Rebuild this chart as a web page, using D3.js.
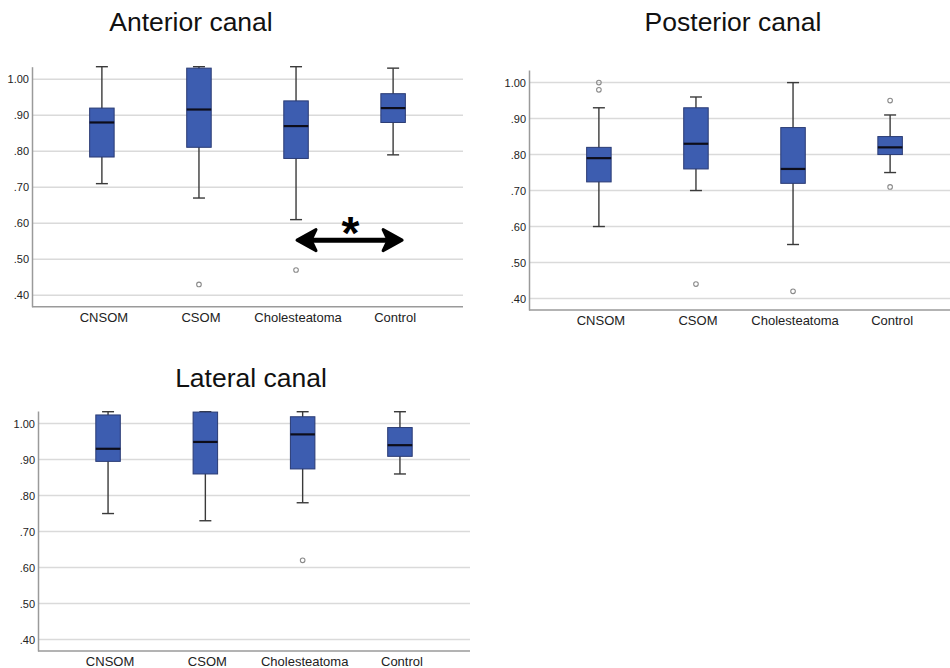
<!DOCTYPE html>
<html>
<head>
<meta charset="utf-8">
<script src="https://cdn.jsdelivr.net/npm/d3@7"></script>
<style>
  body { margin: 0; background: #fff; }
  svg { font-family: "Liberation Sans", Arial, sans-serif; }
</style>
</head>
<body>
<svg id="chart" width="950" height="668"></svg>
<script>
// groups on the x axis
const categories = ['CNSOM', 'CSOM', 'Cholesteatoma', 'Control'];
const yTicks = [0.4, 0.5, 0.6, 0.7, 0.8, 0.9, 1.0];

// box stats per group: [low whisker, Q1, median, Q3, high whisker]
const anteriorStats = [
  [0.71, 0.784, 0.88, 0.92, 1.035],
  [0.67, 0.811, 0.916, 1.031, 1.035],
  [0.61, 0.78, 0.87, 0.94, 1.035],
  [0.79, 0.88, 0.92, 0.96, 1.031]
];
const anteriorOutliers = [[], [0.43], [0.47], []];

const posteriorStats = [
  [0.60, 0.724, 0.79, 0.82, 0.93],
  [0.70, 0.76, 0.83, 0.93, 0.96],
  [0.55, 0.72, 0.76, 0.875, 1.00],
  [0.75, 0.80, 0.82, 0.85, 0.91]
];
const posteriorOutliers = [[1.00, 0.98], [0.44], [0.42], [0.95, 0.71]];

const lateralStats = [
  [0.75, 0.895, 0.93, 1.024, 1.033],
  [0.73, 0.86, 0.949, 1.032, 1.033],
  [0.78, 0.874, 0.97, 1.019, 1.033],
  [0.86, 0.909, 0.94, 0.989, 1.033]
];
const lateralOutliers = [[], [], [0.62], []];

// significance bracket on the anterior panel
const sigFrom = 'Cholesteatoma';
const sigTo = 'Control';
const sigValue = 0.553;

const panels = [
  { title: 'Anterior canal', stats: anteriorStats, outliers: anteriorOutliers,
    x0: 32, x1: 463, bottom: 306.7, titleX: 191, titleY: 31, sig: true },
  { title: 'Posterior canal', stats: posteriorStats, outliers: posteriorOutliers,
    x0: 529, x1: 960, bottom: 310, titleX: 733, titleY: 31, sig: false },
  { title: 'Lateral canal', stats: lateralStats, outliers: lateralOutliers,
    x0: 38, x1: 470, bottom: 651, titleX: 251, titleY: 387, sig: false }
];

const svg = d3.select('#chart');
const fmt = v => d3.format('.2f')(v).replace(/^0/, '');
const boxW = 24.5;
const capW = 12;

panels.forEach(p => {
  const g = svg.append('g');

  const x = d3.scalePoint().domain(categories).range([p.x0, p.x1]).padding(0.72);
  const y = d3.scaleLinear().domain([0.368, 1.035]).range([p.bottom, p.bottom - 240]);

  // gridlines
  g.selectAll('.grid')
    .data(yTicks)
    .enter()
    .append('line')
    .attr('class', 'grid')
    .attr('x1', p.x0).attr('x2', p.x1)
    .attr('y1', d => y(d)).attr('y2', d => y(d))
    .attr('stroke', '#dadada')
    .attr('stroke-width', 1.5);

  // y axis
  const yAxis = d3.axisLeft(y).tickValues(yTicks).tickFormat(fmt).tickSize(0).tickPadding(3);
  const ya = g.append('g')
    .attr('transform', `translate(${p.x0},0)`)
    .call(yAxis);
  ya.select('.domain').attr('stroke', '#9a9a9a').attr('stroke-width', 1.5);
  ya.selectAll('text').attr('font-size', 11).attr('fill', '#222').attr('font-family', null);

  // x axis
  const xAxis = d3.axisBottom(x).tickSize(0).tickPadding(6);
  const xa = g.append('g')
    .attr('transform', `translate(0,${p.bottom})`)
    .call(xAxis);
  xa.select('.domain').attr('stroke', '#9a9a9a').attr('stroke-width', 1.5)
    .attr('d', `M${p.x0},0H${p.x1}`);
  xa.selectAll('text').attr('font-size', 13).attr('fill', '#222').attr('font-family', null)
    .attr('dx', 1.5);

  // title
  g.append('text')
    .attr('x', p.titleX).attr('y', p.titleY)
    .attr('text-anchor', 'middle')
    .attr('font-size', 26.5)
    .attr('fill', '#111')
    .text(p.title);

  const boxes = g.selectAll('.box')
    .data(p.stats.map((s, i) => ({ cat: categories[i], s: s, out: p.outliers[i] })))
    .enter()
    .append('g')
    .attr('class', 'box')
    .attr('transform', d => `translate(${x(d.cat)},0)`);

  // whiskers
  boxes.append('line')
    .attr('x1', 0).attr('x2', 0)
    .attr('y1', d => y(d.s[0])).attr('y2', d => y(d.s[4]))
    .attr('stroke', '#3a3a3a').attr('stroke-width', 1.4);
  [0, 4].forEach(k => {
    boxes.append('line')
      .attr('x1', -capW / 2).attr('x2', capW / 2)
      .attr('y1', d => y(d.s[k])).attr('y2', d => y(d.s[k]))
      .attr('stroke', '#3a3a3a').attr('stroke-width', 1.4);
  });

  // box
  boxes.append('rect')
    .attr('x', -boxW / 2).attr('width', boxW)
    .attr('y', d => y(d.s[3]))
    .attr('height', d => y(d.s[1]) - y(d.s[3]))
    .attr('fill', '#3d5db0')
    .attr('stroke', '#2a3b74')
    .attr('stroke-width', 1);

  // median
  boxes.append('line')
    .attr('x1', -boxW / 2).attr('x2', boxW / 2)
    .attr('y1', d => y(d.s[2])).attr('y2', d => y(d.s[2]))
    .attr('stroke', '#0d0d1a').attr('stroke-width', 2.2);

  // outliers
  boxes.selectAll('circle')
    .data(d => d.out)
    .enter()
    .append('circle')
    .attr('cx', 0).attr('cy', d => y(d))
    .attr('r', 2.3)
    .attr('fill', 'none')
    .attr('stroke', '#8a8a8a')
    .attr('stroke-width', 1.1);

  if (p.sig) {
    const xa0 = x(sigFrom) + 1;
    const xb0 = x(sigTo) + 9;
    const yy = y(sigValue);
    g.append('line')
      .attr('x1', xa0 + 12).attr('x2', xb0 - 12)
      .attr('y1', yy).attr('y2', yy)
      .attr('stroke', '#000').attr('stroke-width', 5);
    g.append('path')
      .attr('d', `M${xa0},${yy}L${xa0 + 19},${yy - 10.5}L${xa0 + 14},${yy}L${xa0 + 19},${yy + 10.5}Z`)
      .attr('fill', '#000').attr('stroke', '#000').attr('stroke-width', 3).attr('stroke-linejoin', 'round');
    g.append('path')
      .attr('d', `M${xb0},${yy}L${xb0 - 19},${yy - 10.5}L${xb0 - 14},${yy}L${xb0 - 19},${yy + 10.5}Z`)
      .attr('fill', '#000').attr('stroke', '#000').attr('stroke-width', 3).attr('stroke-linejoin', 'round');
    g.append('text')
      .attr('x', (xa0 + xb0) / 2 + 1).attr('y', yy + 9)
      .attr('text-anchor', 'middle')
      .attr('font-size', 46)
      .attr('font-weight', 'bold')
      .attr('fill', '#000')
      .text('*');
  }
});
</script>
</body>
</html>
